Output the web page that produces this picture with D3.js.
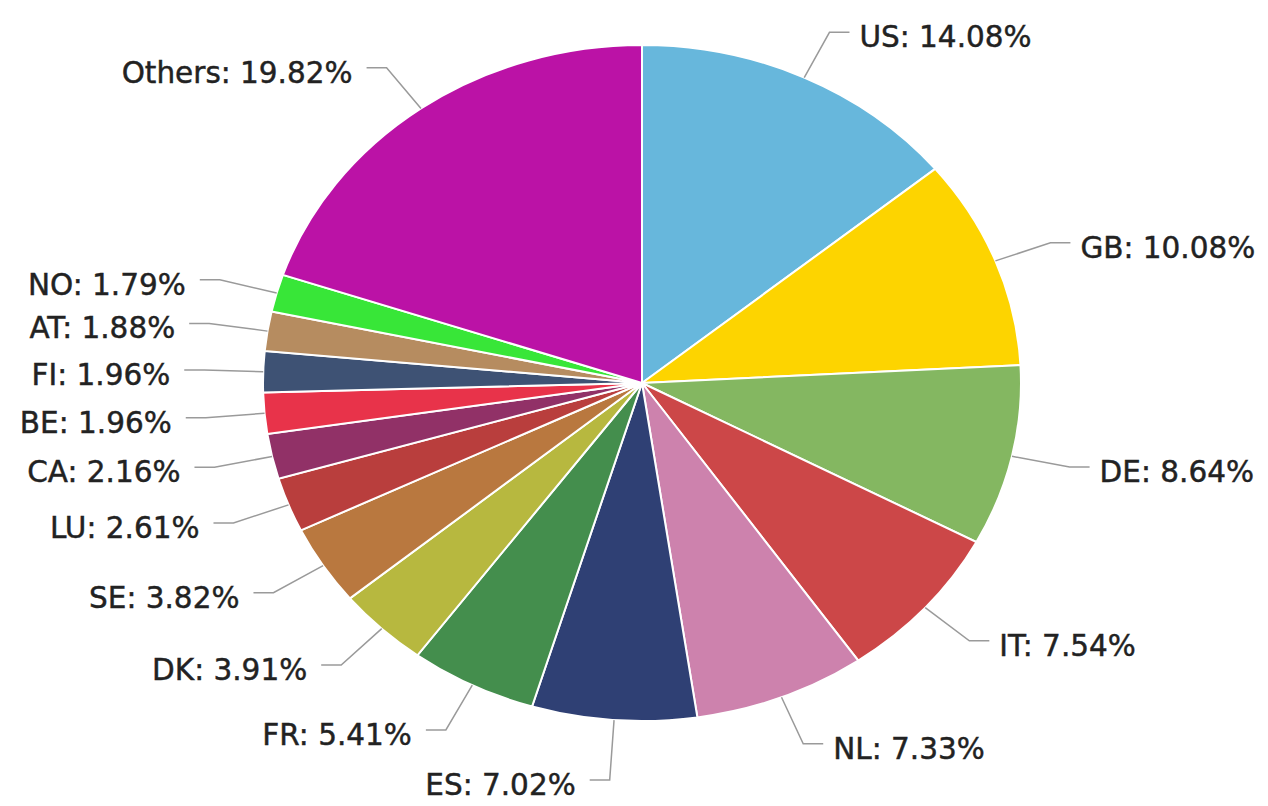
<!DOCTYPE html>
<html>
<head>
<meta charset="utf-8">
<script src="https://cdn.jsdelivr.net/npm/d3@7"></script>
<style>
  body { margin: 0; background: #fff; }
  .slice-label { font-family: "DejaVu Sans", Verdana, sans-serif; font-size: 29.5px; fill: #222; stroke: #222; stroke-width: 0.45px; }
</style>
</head>
<body>
<div id="chart"></div>
<script>
const countries = ["US", "GB", "DE", "IT", "NL", "ES", "FR", "DK", "SE", "LU", "CA", "BE", "FI", "AT", "NO", "Others"];
const shares = [14.08, 10.08, 8.64, 7.54, 7.33, 7.02, 5.41, 3.91, 3.82, 2.61, 2.16, 1.96, 1.96, 1.88, 1.79, 19.82];
const sliceColors = ["#67b7dc", "#fdd400", "#84b761", "#cc4748", "#cd82ad", "#2f4074", "#448e4d", "#b7b83f",
    "#b9783f", "#b93e3d", "#913167", "#e8334a", "#3e5274", "#b68c60", "#38e638", "#bb12a6"];

const width = 1268;
const height = 806;
const cx = 642, cy = 383;
const ry = 338;            // vertical radius of the pie
const rx = 379;            // the picture is stretched sideways
const labelRy = 388;
const labelRx = 438;

const data = countries.map((c, i) => ({ name: c, value: shares[i], color: sliceColors[i] }));

const svg = d3.select("#chart")
    .append("svg")
    .attr("width", width)
    .attr("height", height);

svg.append("rect").attr("width", width).attr("height", height).attr("fill", "#fff");

const pie = d3.pie()
    .value(d => d.value)
    .sort(null);

const arc = d3.arc()
    .innerRadius(0)
    .outerRadius(ry);

const arcs = pie(data);

const pieGroup = svg.append("g")
    .attr("transform", `translate(${cx}, ${cy}) scale(${rx / ry}, 1)`);

pieGroup.selectAll("path")
    .data(arcs)
    .enter()
    .append("path")
    .attr("d", arc)
    .attr("fill", d => d.data.color)
    .attr("stroke", "#fff")
    .attr("stroke-width", 2)
    .attr("vector-effect", "non-scaling-stroke");

// label layout: natural spot from the slice angle, then spread out on each side
const labels = arcs.map(d => {
    const mid = (d.startAngle + d.endAngle) / 2;
    const yNat = cy - labelRy * Math.cos(mid);
    return {
        d: d,
        mid: mid,
        right: mid < Math.PI,
        yNat: yNat,
        y: yNat
    };
});

const minGap = 50;
[true, false].forEach(side => {
    const group = labels.filter(l => l.right === side).sort((a, b) => a.y - b.y);
    let prev = -Infinity;
    group.forEach(l => {
        // only the crowded bottom labels get pushed down
        if (l.y > cy + 300 && l.y < prev + minGap) l.y = prev + minGap;
        if (l.y < 30) l.y = 30;
        prev = l.y;
    });
});

labels.forEach(l => {
    const t = Math.max(0, 1 - Math.pow((l.yNat - cy) / labelRy, 2));
    const dir = l.right ? 1 : -1;
    l.xBreak = cx + dir * labelRx * Math.sqrt(t);
    l.xEnd = l.xBreak + dir * 20;
    l.edgeX = cx + rx * Math.sin(l.mid);
    l.edgeY = cy - ry * Math.cos(l.mid);
});

svg.selectAll(".connector")
    .data(labels)
    .enter()
    .append("path")
    .attr("class", "connector")
    .attr("d", l => `M${l.edgeX},${l.edgeY}L${l.xBreak},${l.y}L${l.xEnd},${l.y}`)
    .attr("fill", "none")
    .attr("stroke", "#9a9a9a")
    .attr("stroke-width", 1.5);

svg.selectAll(".slice-label")
    .data(labels)
    .enter()
    .append("text")
    .attr("class", "slice-label")
    .attr("x", l => l.xEnd + (l.right ? 10 : -14))
    .attr("y", l => l.y + 15)
    .attr("text-anchor", l => l.right ? "start" : "end")
    .text(l => `${l.d.data.name}: ${l.d.data.value.toFixed(2)}%`);
</script>
</body>
</html>
